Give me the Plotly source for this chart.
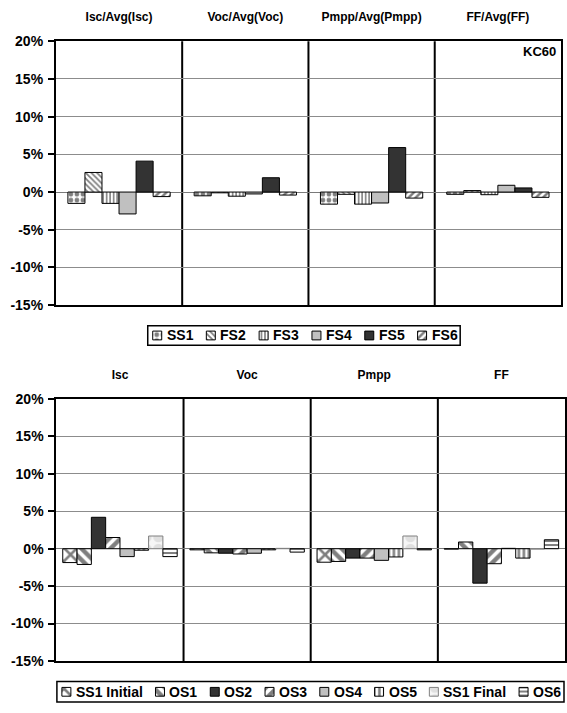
import plotly.graph_objects as go

# ---------------- data (percent deviation from average) ----------------
TOP_CATEGORIES = ["Isc/Avg(Isc)", "Voc/Avg(Voc)", "Pmpp/Avg(Pmpp)", "FF/Avg(FF)"]
TOP_SERIES = ["SS1", "FS2", "FS3", "FS4", "FS5", "FS6"]
ss1 = [-1.5, -0.5, -1.6, -0.3]
fs2 = [2.6, -0.1, -0.3, 0.2]
fs3 = [-1.5, -0.55, -1.6, -0.35]
fs4 = [-2.9, -0.25, -1.45, 0.9]
fs5 = [4.1, 1.9, 5.9, 0.55]
fs6 = [-0.6, -0.4, -0.8, -0.7]

BOTTOM_CATEGORIES = ["Isc", "Voc", "Pmpp", "FF"]
BOTTOM_SERIES = ["SS1 Initial", "OS1", "OS2", "OS3", "OS4", "OS5", "SS1 Final", "OS6"]
ss1_initial = [-1.85, -0.15, -1.8, -0.05]
os1 = [-2.1, -0.55, -1.7, 0.9]
os2 = [4.2, -0.6, -1.25, -4.6]
os3 = [1.5, -0.7, -1.25, -2.0]
os4 = [-1.05, -0.6, -1.55, 0.05]
os5 = [-0.2, -0.15, -1.1, -1.25]
ss1_final = [1.7, 0.05, 1.7, -0.05]
os6 = [-1.05, -0.45, -0.15, 1.2]

Y_TICK_VALUES = [-15, -10, -5, 0, 5, 10, 15, 20]
Y_TICK_LABELS = ["-15%", "-10%", "-5%", "0%", "5%", "10%", "15%", "20%"]
PANEL_TAG = "KC60"

TOP_VALUES = [ss1, fs2, fs3, fs4, fs5, fs6]
BOTTOM_VALUES = [ss1_initial, os1, os2, os3, os4, os5, ss1_final, os6]

# ---------------- styling ----------------
W, H = 567, 713
FONT = "Liberation Sans, Arial, sans-serif"


def patt(shape, size, solidity, fg="black", bg="white", edge="black"):
    return dict(color=bg, line=dict(color=edge, width=1),
                pattern=dict(shape=shape, fgcolor=fg, bgcolor=bg,
                             size=size, solidity=solidity))


def solid(color, edge="black"):
    return dict(color=color, line=dict(color=edge, width=1))


TOP_STYLES = [
    patt(".", 6, 0.5),
    patt("\\", 4, 0.45),
    patt("|", 3.5, 0.45),
    solid("#c0c0c0"),
    solid("#333333"),
    patt("/", 5, 0.5),
]
BOTTOM_STYLES = [
    patt("x", 10, 0.45),
    patt("\\", 8, 0.55),
    solid("#333333"),
    patt("/", 8, 0.55),
    solid("#c0c0c0"),
    patt("|", 5, 0.5),
    patt(".", 12, 0.6, fg="#c8c8c8", bg="#f6f6f6", edge="#808080"),
    patt("-", 4, 0.5),
]


def px_domain_x(x0, x1):
    return [x0 / W, x1 / W]


def px_domain_y(top, bottom):
    return [(H - bottom) / H, (H - top) / H]


# plot areas in pixels: (left, top, right, bottom)
TOP_BOX = (56, 34, 562, 304)
BOT_BOX = (56.5, 400, 566, 668)

fig = go.Figure()


def add_group(values, names, cats, styles, xa, ya, span):
    n = len(values)
    bw = span / n
    for i, (vals, name, st) in enumerate(zip(values, names, styles)):
        fig.add_trace(go.Bar(
            x=cats, y=vals, name=name, marker=st,
            width=bw, offset=-span / 2 + i * bw,
            xaxis=xa, yaxis=ya, showlegend=False,
        ))


add_group(TOP_VALUES, TOP_SERIES, TOP_CATEGORIES, TOP_STYLES, "x", "y", 0.81)
add_group(BOTTOM_VALUES, BOTTOM_SERIES, BOTTOM_CATEGORIES, BOTTOM_STYLES, "x2", "y2", 0.90)

xaxis_common = dict(
    type="category", side="top", showline=True, mirror=True,
    linecolor="black", linewidth=2, ticks="", showgrid=False,
    tickfont=dict(family=FONT, size=12, color="black", weight="bold"),
    ticklabelstandoff=13, fixedrange=True,
)
yaxis_common = dict(
    range=[-15, 20], tickvals=Y_TICK_VALUES, ticktext=Y_TICK_LABELS,
    showline=True, mirror=True, linecolor="black", linewidth=2,
    ticks="outside", ticklen=6, tickwidth=1.5, tickcolor="black",
    showgrid=True, gridcolor="#8c8c8c", gridwidth=1,
    zeroline=True, zerolinecolor="#7a7a7a", zerolinewidth=1,
    tickfont=dict(family=FONT, size=14, color="black", weight="bold"),
    ticklabelstandoff=2, fixedrange=True,
)

fig.update_layout(
    xaxis=dict(domain=px_domain_x(TOP_BOX[0], TOP_BOX[2]), anchor="y", **xaxis_common),
    yaxis=dict(domain=px_domain_y(TOP_BOX[1], TOP_BOX[3]), anchor="x", **yaxis_common),
    xaxis2=dict(domain=px_domain_x(BOT_BOX[0], BOT_BOX[2]), anchor="y2", **xaxis_common),
    yaxis2=dict(domain=px_domain_y(BOT_BOX[1], BOT_BOX[3]), anchor="x2", **yaxis_common),
)

# category separators
shapes = []
for xa, ya in (("x", "y"), ("x2", "y2")):
    for b in (0.5, 1.5, 2.5):
        shapes.append(dict(type="line", xref=xa, yref=f"{ya} domain",
                           x0=b, x1=b, y0=0, y1=1, layer="below",
                           line=dict(color="black", width=2)))

annotations = [dict(
    text=PANEL_TAG, xref="x domain", yref="y domain", x=1, y=1,
    xanchor="right", yanchor="top", xshift=-3, yshift=-1, showarrow=False,
    font=dict(family=FONT, size=13, color="black", weight="bold"),
)]

# ---------------- legends (swatches drawn as bars on hidden axes) ----------------
CHAR_W = {"S": 667, "O": 778, "F": 611, "I": 278, "n": 611, "i": 278,
          "t": 333, "a": 556, "l": 278, " ": 278}


def text_width(s, size):
    return sum(CHAR_W.get(c, 556) for c in s) * size / 1000


def add_legend(idx, box, names, styles, size=14, key=9, gap=3, pad=5):
    x0, y0, x1, y1 = box
    bw, bh = x1 - x0, y1 - y0
    xa, ya = f"x{idx}", f"y{idx}"
    fig.layout[f"xaxis{idx}"] = dict(domain=px_domain_x(x0, x1), range=[0, bw],
                                     visible=False, anchor=ya, fixedrange=True)
    fig.layout[f"yaxis{idx}"] = dict(domain=px_domain_y(y0, y1), range=[0, bh],
                                     visible=False, anchor=xa, fixedrange=True)
    shapes.append(dict(type="rect", xref=f"{xa} domain", yref=f"{ya} domain",
                       x0=0, x1=1, y0=0, y1=1, line=dict(color="black", width=1.5)))
    widths = [text_width(n, size) for n in names]
    used = sum(key + gap + w for w in widths)
    spacing = (bw - 2 * pad - used) / (len(names) - 1)
    cx = pad
    for name, st, tw in zip(names, styles, widths):
        fig.add_trace(go.Bar(
            x=[cx + key / 2], y=[key], base=[(bh - key) / 2], width=[key],
            marker=st, xaxis=xa, yaxis=ya, showlegend=False,
            hoverinfo="skip", cliponaxis=False,
        ))
        annotations.append(dict(
            text=name, xref=xa, yref=ya, x=cx + key + gap, y=bh / 2,
            xanchor="left", yanchor="middle", showarrow=False,
            font=dict(family=FONT, size=size, color="black", weight="bold"),
        ))
        cx += key + gap + tw + spacing


add_legend(3, (148, 325, 461, 345), TOP_SERIES, TOP_STYLES)
add_legend(4, (57, 689, 565, 710), BOTTOM_SERIES, BOTTOM_STYLES)

fig.update_layout(
    width=W, height=H, autosize=False,
    margin=dict(l=0, r=0, t=0, b=0),
    paper_bgcolor="white", plot_bgcolor="white",
    barmode="overlay", showlegend=False,
    shapes=shapes, annotations=annotations,
    font=dict(family=FONT, color="black"),
)

fig.write_html("out.html", config={"displayModeBar": False})
